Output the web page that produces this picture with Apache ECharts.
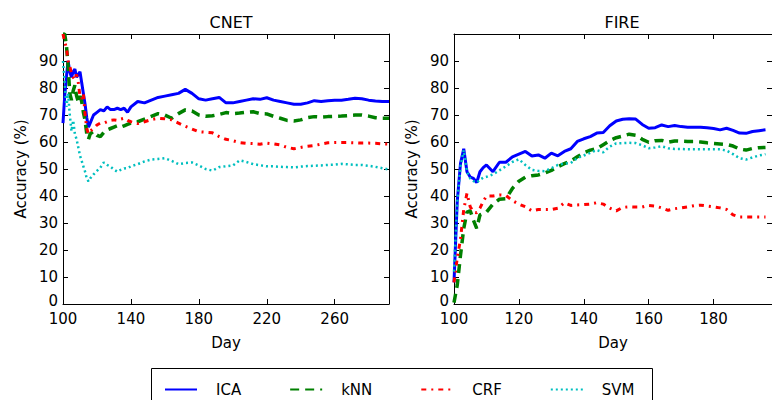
<!DOCTYPE html>
<html>
<head>
<meta charset="utf-8">
<script src="https://cdn.jsdelivr.net/npm/echarts@6/dist/echarts.min.js"></script>
<style>
    html, body { margin: 0; padding: 0; background: #fff; }
    #main { width: 772px; height: 400px; }
</style>
</head>
<body>
<div id="main"></div>
<script>
var seriesNames = ['ICA', 'kNN', 'CRF', 'SVM'];
var yTicks = [0, 10, 20, 30, 40, 50, 60, 70, 80, 90];

// CNET panel
var cnetDays = [100, 101, 102, 103, 104, 105, 106, 107, 108, 109, 110, 111, 112, 113, 114, 115, 116,
    118, 120, 122, 124, 126, 128, 130, 132, 134, 136, 138, 140,
    144, 148, 152, 156, 160, 164, 168, 172, 176, 180, 184, 188, 192, 196, 200, 204, 208, 212, 216,
    220, 224, 228, 232, 236, 240, 244, 248, 252, 256, 260, 264, 268, 272, 276, 280, 284, 288, 292];
var cnetICA = [67, 77, 84, 90, 86, 84, 86, 87, 84, 85, 86, 82, 78, 74, 69, 65.5, 67,
    70, 71, 72, 71.5, 73, 72, 72, 72.5, 72, 72.5, 71, 73,
    75, 74.5, 75.5, 76.5, 77, 77.5, 78, 79.5, 78, 76, 75.5, 76, 76.5, 74.5, 74.5, 75, 75.5, 76, 75.8,
    76.4, 75.5, 75, 74.5, 74, 74, 74.5, 75.3, 75, 75.3, 75.5, 75.5, 75.8, 76.2, 76, 75.5, 75.2, 75, 75];
var cnetKNN = [100, 100, 96, 88, 78, 75.5, 79, 81, 77, 75, 77, 75, 71, 68, 63, 61, 63,
    64, 62.5, 62, 63.5, 64.5, 65, 65.5, 66, 65.5, 66, 66.5, 67,
    67.5, 68.5, 69.5, 70.5, 70, 68.8, 70.5, 71.9, 71.5, 70, 69.5, 69.7, 70.2, 70.9, 70.5, 70.7, 71, 71.2, 70.5,
    70.4, 69.5, 68.8, 68, 67.8, 68.2, 69, 69.4, 69.2, 69.4, 69.5, 69.6, 69.8, 70, 70, 69.6, 69, 68.8, 68.8];
var cnetCRF = [100, 97, 95, 90, 88, 85.5, 84, 83, 85, 82, 77, 76, 78, 70, 65, 63, 64,
    65, 66.3, 67, 67, 67.5, 68, 68.2, 68, 68.5, 68.8, 68, 67.5,
    66.8, 67.5, 68.3, 68.8, 68.6, 68.2, 67, 65.8, 64.8, 63.8, 63.6, 63.4, 62, 61, 60.5, 59.8, 59.5, 59.4, 59.2,
    59.6, 59.3, 58.9, 58, 57.5, 58, 58.4, 58.7, 59.2, 59.7, 59.8, 59.8, 59.8, 59.7, 59.6, 59.6, 59.5, 59.3, 59.2];
var cnetSVM = [90, 82, 73, 78, 70, 64, 68, 63, 61, 58, 55, 53, 51, 49, 46.5, 45.4, 46.5,
    48, 49.3, 50.5, 52.4, 51.5, 50.8, 49.8, 49, 49.7, 50.2, 50.3, 51,
    51.8, 52.8, 53.5, 53.7, 54, 53, 51.8, 52.2, 52.4, 51.3, 50, 49.4, 50.7, 51, 51.3, 53.2, 52.6, 51.8, 51.4,
    51, 51, 50.8, 50.7, 50.6, 50.9, 51.1, 51.2, 51.3, 51.5, 51.6, 51.9, 51.7, 51.5, 51.5, 51.2, 50.8, 50.3, 49.8];

// FIRE panel
var fireDays = [100, 101, 102, 103, 104, 105, 106, 107, 108, 109, 110,
    112, 114, 116, 118, 120, 122, 124, 126, 128, 130, 132, 134, 136, 138, 140, 142, 144, 146, 148,
    150, 152, 154, 156, 158, 160, 162, 164, 166, 168, 170, 172, 174, 176, 178, 180, 182, 184, 186,
    188, 190, 192, 194, 196];
var fireICA = [8, 38, 52, 57.5, 49, 47, 46.5, 45, 49, 50.5, 51.5,
    49, 52.5, 52.5, 54.5, 55.5, 56.5, 54.8, 55.2, 54, 55.9, 54.9, 56.5, 57.5, 60.2, 61.2, 62, 63.3, 63.5, 66,
    67.8, 68.4, 68.6, 68.5, 66.5, 65.1, 65.3, 66.3, 65.7, 66.1, 65.7, 65.5, 65.5, 65.5, 65.3, 65, 64.5, 65.1, 64.3,
    63.3, 63.2, 63.9, 64.2, 64.5];
var fireKNN = [0.5, 7, 18, 28, 34, 34.5, 31, 28, 33, 33.5, 34,
    37, 38.8, 39, 42.8, 45.5, 47, 47.5, 47.8, 48.5, 49.5, 50.8, 52, 53, 54.5, 56, 57, 57.5, 59, 60.5,
    61.6, 62.2, 62.9, 62.5, 61, 59.9, 60.5, 60.6, 59.9, 60.4, 60.3, 60.2, 60.2, 60, 59.7, 59.5, 59.3, 59.1, 58.5,
    57.4, 57, 57.6, 57.9, 58];
var fireCRF = [8, 17, 24, 35, 41, 36, 34, 33.8, 35.5, 38, 40,
    40, 40.4, 40.2, 38.3, 37, 36, 34.5, 35, 35, 35, 35.5, 37.5, 36.5, 36.7, 36.8, 37, 37.5, 37, 35.5,
    34.5, 35.8, 36, 35.9, 35.9, 36.5, 36.3, 35.6, 34.7, 35.3, 35.6, 36, 36.4, 36.6, 36.3, 36, 35.6, 35, 33,
    32.2, 32.2, 32.2, 32.2, 32.2];
var fireSVM = [12, 38, 51, 57, 49, 46.5, 45.5, 45, 46, 46.8, 47.1,
    48, 49.5, 51, 52.6, 53.6, 51.5, 49.7, 49.3, 49.2, 50.3, 51.5, 52, 52.2, 54, 55, 56, 57, 56.2, 58.3,
    59.5, 59.6, 59.7, 59.6, 58.8, 57.7, 58, 58.4, 57.7, 57.4, 57.4, 57.3, 57.3, 57.3, 57.3, 57.3, 57.3, 56.8, 55.5,
    54, 53.5, 54.3, 55, 55.5];

var chart = echarts.init(document.getElementById('main'), null, { renderer: 'svg' });

var fontFamily = 'DejaVu Sans';
var lineStyles = [
    { color: '#0000ff', width: 3, type: 'solid' },
    { color: '#008000', width: 3.5, type: [9, 6] },
    { color: '#ff0000', width: 3, type: [5, 5, 2, 5] },
    { color: '#00bfbf', width: 2.5, type: [2, 3] }
];

function pairs(days, values) {
    return days.map(function (d, i) { return [d, values[i]]; });
}

function xAxes(grid, max, interval) {
    var base = {
        gridIndex: grid, type: 'value', min: 100, max: max, interval: interval,
        splitLine: { show: false },
        axisLine: { show: true, onZero: false, lineStyle: { color: '#000', width: 1 } },
        axisTick: { show: true, inside: true, length: 5, lineStyle: { color: '#000' } }
    };
    return [
        Object.assign({}, base, {
            position: 'bottom', name: 'Day', nameLocation: 'middle', nameGap: 31,
            nameTextStyle: { fontFamily: fontFamily, fontSize: 15, color: '#000' },
            axisLabel: { fontFamily: fontFamily, fontSize: 15, lineHeight: 12, color: '#000', margin: 9, showMaxLabel: false }
        }),
        Object.assign({}, base, { position: 'top', axisLabel: { show: false } })
    ];
}

function yAxes(grid) {
    var base = {
        gridIndex: grid, type: 'value', min: 0, max: 100, interval: 10,
        splitLine: { show: false },
        axisLine: { show: true, onZero: false, lineStyle: { color: '#000', width: 1 } },
        axisTick: { show: true, inside: true, length: 5, lineStyle: { color: '#000' } }
    };
    return [
        Object.assign({}, base, {
            position: 'left', name: 'Accuracy (%)', nameLocation: 'middle', nameGap: 35,
            nameTextStyle: { fontFamily: fontFamily, fontSize: 15, color: '#000' },
            axisLabel: {
                fontFamily: fontFamily, fontSize: 15, lineHeight: 12, color: '#000', margin: 5, showMaxLabel: false,
                formatter: function (v) {
                    if (yTicks.indexOf(v) < 0) return '';
                    return v === 0 ? '{z|0}' : String(v);
                },
                rich: {
                    z: { fontFamily: fontFamily, fontSize: 15, lineHeight: 12, color: '#000', padding: [0, 0, 6, 0] }
                }
            }
        }),
        Object.assign({}, base, { position: 'right', axisLabel: { show: false } })
    ];
}

function panelSeries(days, valuesList, xIndex, yIndex) {
    return valuesList.map(function (values, i) {
        return {
            name: seriesNames[i], type: 'line', xAxisIndex: xIndex, yAxisIndex: yIndex,
            data: pairs(days, values), symbol: 'none', showSymbol: false,
            lineStyle: lineStyles[i], itemStyle: { color: lineStyles[i].color },
            clip: true
        };
    });
}

var option = {
    animation: false,
    title: [
        { text: 'CNET', left: 226, top: 9, textAlign: 'center',
          textStyle: { fontFamily: fontFamily, fontSize: 16, fontWeight: 'normal', color: '#000' } },
        { text: 'FIRE', left: 617, top: 9, textAlign: 'center',
          textStyle: { fontFamily: fontFamily, fontSize: 16, fontWeight: 'normal', color: '#000' } }
    ],
    grid: [
        { left: 63, top: 34, width: 326, height: 270 },
        { left: 454, top: 34, width: 326, height: 270 }
    ],
    xAxis: xAxes(0, 292, 40).concat(xAxes(1, 198, 20)),
    yAxis: yAxes(0).concat(yAxes(1)),
    legend: {
        data: seriesNames, left: 159, top: 377, itemWidth: 32, itemHeight: 14, itemGap: 48,
        itemStyle: { opacity: 0, borderWidth: 0 },
        textStyle: { fontFamily: fontFamily, fontSize: 15, color: '#000', padding: [0, 0, 0, 14] }
    },
    graphic: [
        { type: 'rect', shape: { x: 151.5, y: 368.5, width: 501, height: 50 },
          style: { fill: 'none', stroke: '#000', lineWidth: 1 }, silent: true }
    ],
    series: panelSeries(cnetDays, [cnetICA, cnetKNN, cnetCRF, cnetSVM], 0, 0)
        .concat(panelSeries(fireDays, [fireICA, fireKNN, fireCRF, fireSVM], 2, 2))
};

chart.setOption(option);
</script>
</body>
</html>
